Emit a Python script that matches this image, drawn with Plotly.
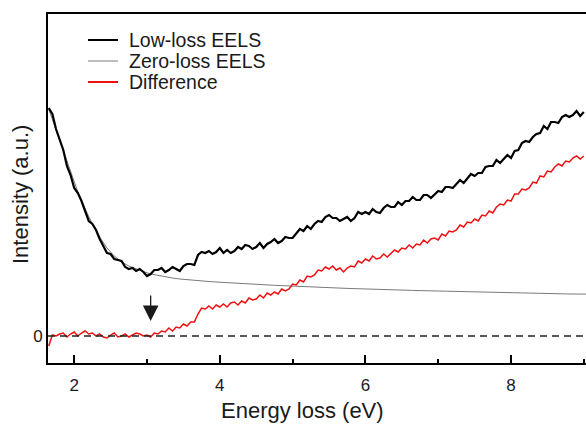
import plotly.graph_objects as go

# ---------------- data ----------------
x_step = 0.05
x_ll = [round(1.65 + x_step * i, 2) for i in range(148)]

low_loss = [
    2.28, 2.22, 2.07, 1.96, 1.86, 1.70, 1.61, 1.48, 1.43, 1.35,
    1.24, 1.15, 1.12, 1.06, 0.97, 0.90, 0.83, 0.82, 0.77, 0.76,
    0.75, 0.69, 0.67, 0.68, 0.65, 0.67, 0.64, 0.60, 0.62, 0.66,
    0.66, 0.68, 0.64, 0.66, 0.69, 0.67, 0.65, 0.70, 0.72, 0.72,
    0.71, 0.81, 0.84, 0.83, 0.85, 0.82, 0.84, 0.88, 0.83, 0.86,
    0.83, 0.85, 0.89, 0.87, 0.91, 0.90, 0.87, 0.89, 0.93, 0.88,
    0.92, 0.94, 0.97, 0.93, 0.95, 0.99, 0.98, 0.98, 1.03, 1.07,
    1.05, 1.10, 1.07, 1.12, 1.15, 1.14, 1.19, 1.21, 1.18, 1.18,
    1.15, 1.17, 1.19, 1.15, 1.18, 1.24, 1.22, 1.24, 1.22, 1.27,
    1.24, 1.23, 1.28, 1.31, 1.29, 1.29, 1.34, 1.31, 1.35, 1.35,
    1.39, 1.36, 1.36, 1.41, 1.41, 1.38, 1.42, 1.45, 1.44, 1.49,
    1.49, 1.48, 1.52, 1.56, 1.53, 1.58, 1.62, 1.60, 1.63, 1.63,
    1.69, 1.70, 1.70, 1.76, 1.73, 1.77, 1.81, 1.78, 1.85, 1.86,
    1.93, 1.95, 1.94, 1.99, 2.02, 2.03, 2.10, 2.07, 2.14, 2.14,
    2.13, 2.19, 2.21, 2.19, 2.21, 2.25, 2.20, 2.24,
]

difference = [
    -0.10, 0.01, 0.00, 0.02, 0.03, -0.01, 0.02, 0.04, 0.00, 0.03,
    0.05, 0.02, 0.03, 0.00, 0.02, -0.01, -0.02, 0.01, 0.03, -0.01,
    0.00, 0.02, -0.01, 0.01, 0.03, 0.02, 0.00, 0.01, -0.01, 0.03,
    0.02, 0.05, 0.04, 0.08, 0.05, 0.09, 0.08, 0.12, 0.10, 0.14,
    0.14, 0.22, 0.28, 0.27, 0.30, 0.27, 0.31, 0.29, 0.32, 0.29,
    0.33, 0.34, 0.31, 0.35, 0.33, 0.38, 0.36, 0.37, 0.41, 0.38,
    0.43, 0.41, 0.44, 0.42, 0.47, 0.45, 0.47, 0.52, 0.51, 0.56,
    0.54, 0.60, 0.59, 0.61, 0.66, 0.65, 0.69, 0.67, 0.70, 0.66,
    0.68, 0.64, 0.68, 0.70, 0.69, 0.75, 0.73, 0.77, 0.75, 0.80,
    0.77, 0.78, 0.82, 0.79, 0.83, 0.86, 0.84, 0.88, 0.87, 0.91,
    0.88, 0.92, 0.91, 0.96, 0.93, 0.97, 0.98, 0.96, 1.02, 1.00,
    1.05, 1.04, 1.06, 1.11, 1.09, 1.14, 1.13, 1.17, 1.15, 1.21,
    1.20, 1.25, 1.23, 1.29, 1.32, 1.31, 1.36, 1.35, 1.42, 1.42,
    1.47, 1.46, 1.48, 1.54, 1.53, 1.60, 1.59, 1.65, 1.64, 1.69,
    1.72, 1.70, 1.75, 1.74, 1.78, 1.80, 1.77, 1.80,
]

x_zl = [round(1.65 + 0.1 * i, 2) for i in range(75)]
zero_loss = [
    2.27, 2.06, 1.84, 1.63, 1.44, 1.27, 1.12, 0.99, 0.88, 0.80,
    0.74, 0.70, 0.67, 0.645, 0.62, 0.605, 0.59, 0.58, 0.57, 0.562,
    0.555, 0.55, 0.545, 0.54, 0.535, 0.53, 0.526, 0.522, 0.518, 0.514,
    0.51, 0.507, 0.504, 0.50, 0.497, 0.494, 0.491, 0.488, 0.485, 0.482,
    0.479, 0.476, 0.473, 0.47, 0.468, 0.466, 0.464, 0.462, 0.46, 0.458,
    0.456, 0.454, 0.452, 0.45, 0.448, 0.446, 0.444, 0.442, 0.44, 0.438,
    0.436, 0.434, 0.432, 0.43, 0.428, 0.427, 0.426, 0.425, 0.424, 0.423,
    0.422, 0.421, 0.42, 0.42, 0.419,
]

series_names = ["Low-loss EELS", "Zero-loss EELS", "Difference"]
x_tick_vals = [2, 4, 6, 8]
y_tick_vals = [0]
onset_energy = 3.05

# ---------------- figure ----------------
W, H = 586, 425
ML, MR, MT, MB = 48, 0, 14, 62
PW, PH = W - ML - MR, H - MT - MB
FONT = "Liberation Sans, Arial, sans-serif"
TXT = "#1a1a1a"

def px_x(p):
    return (p - ML) / PW

def px_y(p):
    return (H - MB - p) / PH

fig = go.Figure()
fig.add_trace(go.Scatter(x=x_zl, y=zero_loss, mode="lines", name=series_names[1],
                         line=dict(color="#7a7a7a", width=1)))
fig.add_trace(go.Scatter(x=x_ll, y=difference, mode="lines", name=series_names[2],
                         line=dict(color="#ee1111", width=1.5)))
fig.add_trace(go.Scatter(x=x_ll, y=low_loss, mode="lines", name=series_names[0],
                         line=dict(color="#000000", width=2.2)))

# dashed zero baseline
fig.add_shape(type="line", xref="paper", x0=0, x1=1, yref="y", y0=0, y1=0,
              line=dict(color="#222222", width=1.3, dash="7px,5px"))

# onset arrow
fig.add_annotation(x=onset_energy, y=0.15, ax=onset_energy, ay=0.42,
                   xref="x", yref="y", axref="x", ayref="y", text="",
                   showarrow=True, arrowhead=2, arrowsize=2.4, arrowwidth=1.3,
                   arrowcolor="#1a1a1a")

# manual legend
leg_colors = ["#000000", "#7a7a7a", "#ee1111"]
leg_widths = [2, 1, 2]
for k, (nm, col, lw) in enumerate(zip(series_names, leg_colors, leg_widths)):
    yy = 40 + 21 * k
    fig.add_shape(type="line", xref="paper", yref="paper",
                  x0=px_x(88), x1=px_x(118), y0=px_y(yy), y1=px_y(yy),
                  line=dict(color=col, width=lw))
    fig.add_annotation(xref="paper", yref="paper", x=px_x(127), y=px_y(yy),
                       text=nm, showarrow=False, xanchor="left", yanchor="middle",
                       font=dict(family=FONT, size=19.5, color=TXT))

# axis titles
fig.add_annotation(xref="paper", yref="paper", x=px_x(302), y=px_y(410),
                   text="Energy loss (eV)", showarrow=False,
                   xanchor="center", yanchor="middle",
                   font=dict(family=FONT, size=22, color=TXT))
fig.add_annotation(xref="paper", yref="paper", x=px_x(20), y=px_y(195),
                   text="Intensity (a.u.)", showarrow=False, textangle=-90,
                   xanchor="center", yanchor="middle",
                   font=dict(family=FONT, size=22, color=TXT))

fig.update_layout(
    width=W, height=H,
    margin=dict(l=ML, r=MR, t=MT, b=MB, pad=0),
    paper_bgcolor="white", plot_bgcolor="white",
    showlegend=False,
    font=dict(family=FONT, color=TXT),
)
fig.update_xaxes(
    range=[1.64, 9.03], showgrid=False, zeroline=False,
    showline=True, linecolor="#000000", linewidth=2, mirror=True,
    tickmode="array", tickvals=x_tick_vals, ticktext=[str(v) for v in x_tick_vals],
    ticks="inside", ticklen=8, tickwidth=1.5, tickcolor="#000000",
    minor=dict(dtick=1, tick0=1, ticks="inside", ticklen=4, tickwidth=1.5,
               tickcolor="#000000", showgrid=False),
    tickfont=dict(family=FONT, size=17, color=TXT),
    ticklabelstandoff=6,
)
fig.update_yaxes(
    range=[-0.27, 3.22], showgrid=False, zeroline=False,
    showline=True, linecolor="#000000", linewidth=2, mirror=False,
    tickmode="array", tickvals=y_tick_vals, ticktext=["0"], ticks="",
    tickfont=dict(family=FONT, size=17, color=TXT),
)

fig.write_html("out.html")
